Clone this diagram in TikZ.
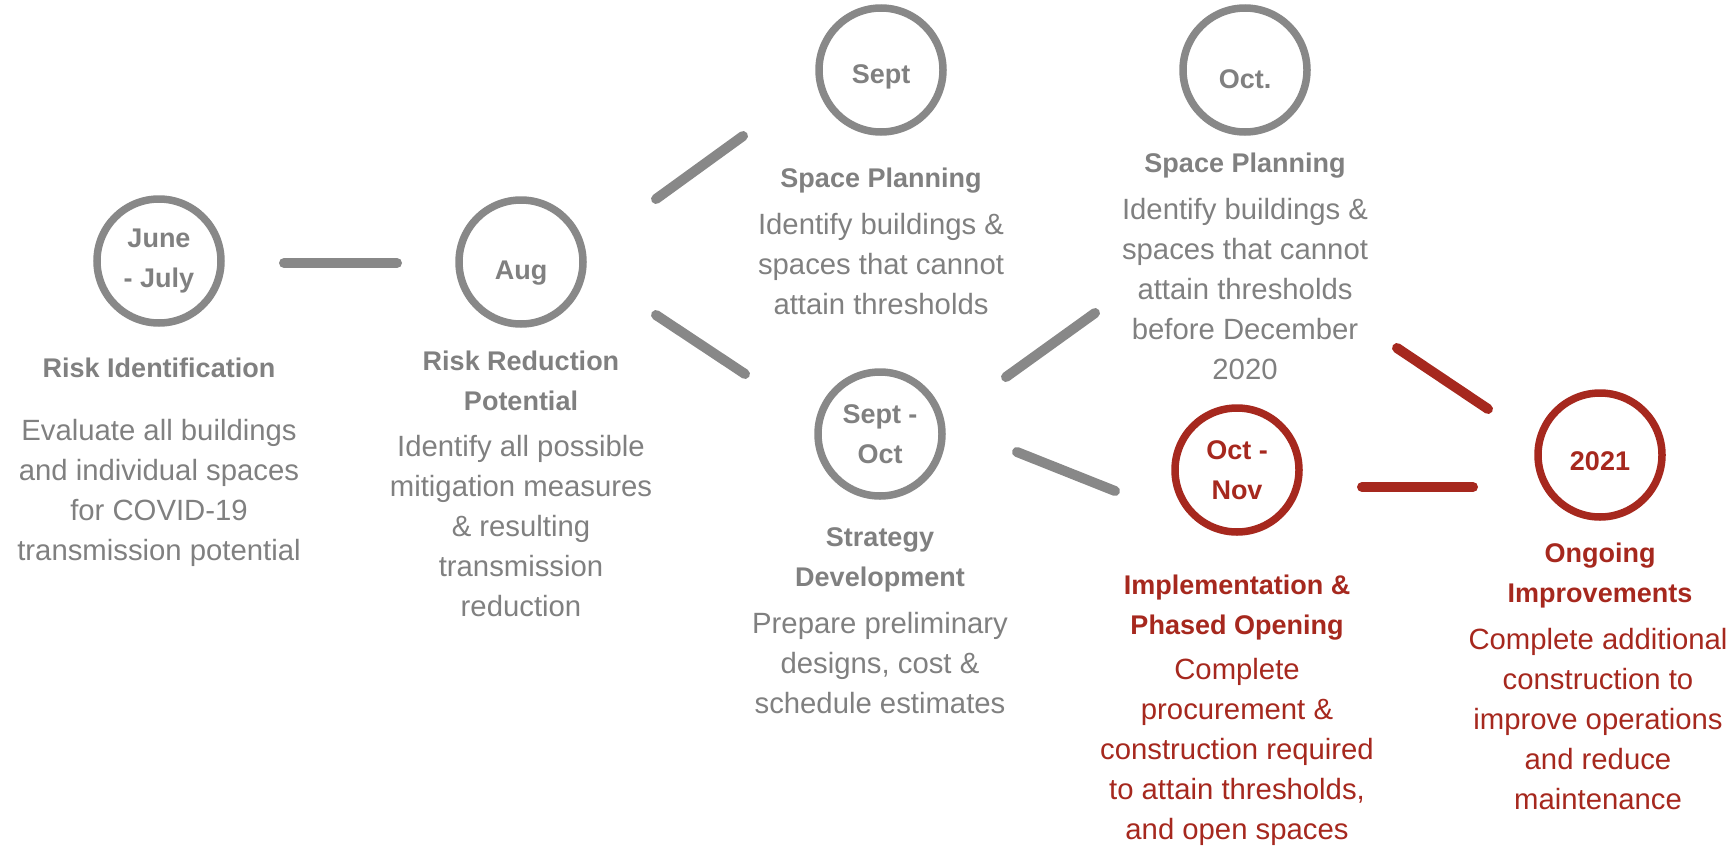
\documentclass[tikz,border=0pt]{standalone}
\usepackage{fontspec}
\setmainfont{Liberation Sans}
\usetikzlibrary{calc}
\definecolor{lgray}{HTML}{888888}
\definecolor{tgray}{HTML}{808080}
\definecolor{dred}{HTML}{A6281E}
\newcommand{\lowlabel}[2]{\raisebox{-#1pt}[0pt][0pt]{#2}}
\begin{document}
\begin{tikzpicture}[x=1pt,y=-1pt,
  circ/.style={circle,draw=lgray,text=tgray,line width=7.5pt,minimum size=124pt,inner sep=0pt,outer sep=0pt,
    font=\fontsize{27}{40}\selectfont\bfseries,align=center},
  redcirc/.style={circ,draw=dred,text=dred},
  title/.style={font=\fontsize{27}{40}\selectfont\bfseries,text=tgray,align=center,inner sep=0pt},
  body/.style={font=\fontsize{29.3}{40}\selectfont,text=tgray,align=center,inner sep=0pt},
  redtitle/.style={title,text=dred},
  redbody/.style={body,text=dred},
  conn/.style={line width=10pt,line cap=round,draw=lgray},
  redconn/.style={conn,draw=dred}]
\useasboundingbox (0,0) rectangle (1730,846);

% circles
\node[circ] (june) at (159,261) {June\\- July};
\node[circ] (aug) at (521,262) {\lowlabel{17}{Aug}};
\node[circ] (sept) at (881,70) {\lowlabel{13}{Sept}};
\node[circ] (oct) at (1245,70) {\lowlabel{18}{Oct.}};
\node[circ] (septoct) at (880,434) {Sept -\\Oct};
\node[redcirc] (octnov) at (1237,470) {Oct -\\Nov};
\node[redcirc] (y2021) at (1600,455) {\lowlabel{15.5}{2021}};

% titles and bodies
\node[title] (t1) at (159,368) {Risk Identification};
\node[body] (b1) at (159,493) {Evaluate all buildings\\and individual spaces\\for COVID-19\\transmission potential};

\node[title] (t2) at (521,381) {Risk Reduction\\Potential};
\node[body] (b2) at (521,526) {Identify all possible\\mitigation measures\\\& resulting\\transmission\\reduction};

\node[title] (t3) at (881,181) {Space Planning};
\node[body] (b3) at (881,264) {Identify buildings \&\\spaces that cannot\\attain thresholds};

\node[title] (t4) at (1245,166) {Space Planning};
\node[body] (b4) at (1245,289) {Identify buildings \&\\spaces that cannot\\attain thresholds\\before December\\2020};

\node[title] (t5) at (880,560) {Strategy\\Development};
\node[body] (b5) at (880,663) {Prepare preliminary\\designs, cost \&\\schedule estimates};

\node[redtitle] (t6) at (1237,608) {Implementation \&\\Phased Opening};
\node[redbody] (b6) at (1237,752) {Complete\\procurement \&\\construction required\\to attain thresholds,\\and open spaces};

\node[redtitle] (t7) at (1600,576) {Ongoing\\Improvements};
\node[redbody] (b7) at (1598,719) {Complete additional\\construction to\\improve operations\\and reduce\\maintenance};

% connectors
\draw[conn] ($(june)+(125,2)$) -- ($(aug)+(-124,1)$);
\draw[conn] ($(aug)+(135,-63)$) -- ($(sept)+(-138,66)$);
\draw[conn] ($(aug)+(135,53)$) -- ($(septoct)+(-135,-60)$);
\draw[conn] ($(septoct)+(126,-57)$) -- ($(oct)+(-150,243)$);
\draw[conn] ($(septoct)+(137,18)$) -- ($(octnov)+(-122,21)$);
\draw[redconn] ($(octnov)+(125,17)$) -- ($(y2021)+(-127,32)$);
\draw[redconn] ($(oct)+(152,278)$) -- ($(y2021)+(-112,-46)$);
\end{tikzpicture}
\end{document}
